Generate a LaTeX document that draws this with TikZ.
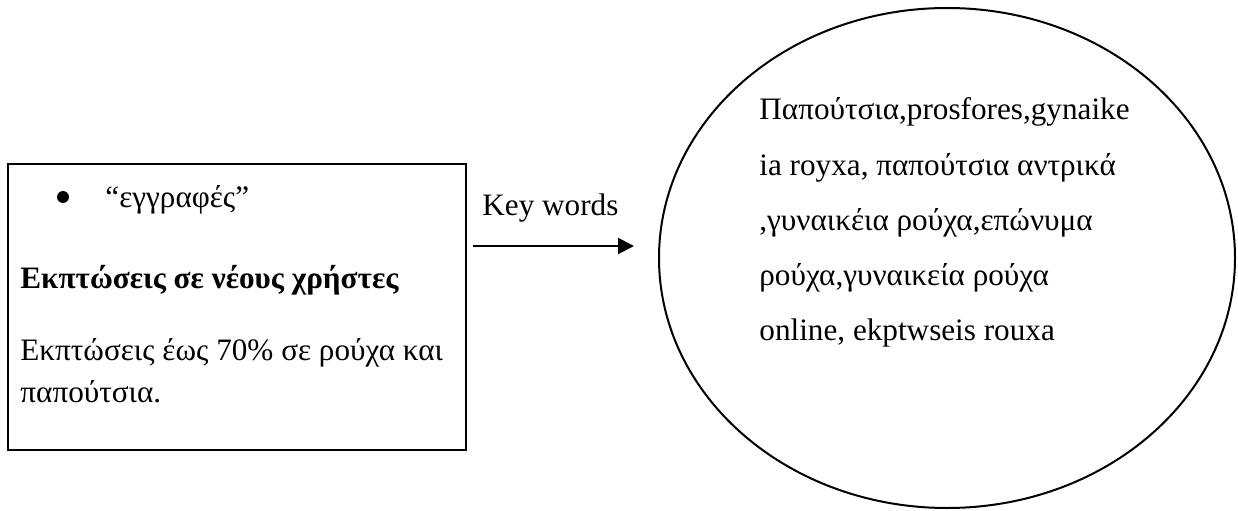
\documentclass[tikz,border=0pt]{standalone}
\usepackage{fontspec}
\setmainfont{Liberation Serif}
\usetikzlibrary{arrows.meta,shapes.geometric}

\newcommand{\docfont}{\fontsize{15.6pt}{18pt}\selectfont}
\tikzset{
  txt/.style={anchor=base west, inner sep=0pt, font=\docfont},
}

\begin{document}
\begin{tikzpicture}[x=0.5pt,y=0.5pt]
    \useasboundingbox (0,0) rectangle (1238,510);
    % left box with the offer text
    \node[draw, line width=0.75pt, anchor=north west, inner sep=0pt,
          minimum width=229pt, minimum height=143pt] (offerbox) at (7,347) {};
    \node[circle, fill, inner sep=0pt, minimum size=6pt] (dot) at (63,313) {};% bullet
    \node[txt] (signup) at (105,303) {“εγγραφές”};
    \node[txt, font=\docfont\bfseries] (title) at (20,222) {Εκπτώσεις σε νέους χρήστες};
    \node[txt] (offer1) at (20,150) {Εκπτώσεις έως 70\% σε ρούχα και};
    \node[txt] (offer2) at (20,108) {παπούτσια.};
    % the arrow and its label
    \node[txt] (kwlabel) at (482,295) {Key words};
    \coordinate (ArrStart) at (473,264);
    \coordinate (ArrEnd)   at (634,264);
    \draw[line width=1pt, -{Triangle[length=8pt,width=8pt]}] (ArrStart) -- (ArrEnd);
    % ellipse with the key words
    \node[draw, ellipse, line width=1pt, inner sep=0pt,
          minimum width=288pt, minimum height=250pt] (kwcloud) at (947,252) {};
    \foreach \line [count=\i] in {{Παπούτσια,prosfores,gynaike},
                                  {ia royxa, παπούτσια αντρικά},
                                  {,γυναικέια ρούχα,επώνυμα},
                                  {ρούχα,γυναικεία ρούχα},
                                  {online, ekptwseis rouxa}}{%
        \node[txt] (kw\i) at (759,{445-55*\i}) {\line};
    }
\end{tikzpicture}
\end{document}
